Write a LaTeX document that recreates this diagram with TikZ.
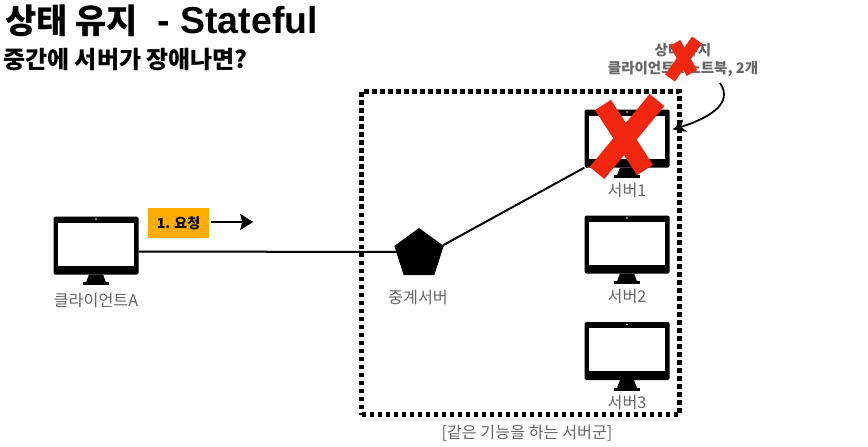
\documentclass[tikz,border=0pt]{standalone}
\usepackage{fontspec}
\usetikzlibrary{shapes.geometric, arrows.meta, positioning, calc}
\setmainfont{Liberation Sans}
\newfontfamily\krfont{Noto Sans CJK KR}
\definecolor{reqbg}{HTML}{FFAB00}
\definecolor{crossred}{HTML}{F0260F}
\definecolor{labeltxt}{HTML}{666666}

\begin{document}
\begin{tikzpicture}[
    x=1pt, y=-1pt,
    >=Stealth,
    monbody/.style={
        rectangle, fill=black, rounded corners=1.5pt, inner sep=0pt,
        minimum width=85pt, minimum height=58pt
    },
    monitor/.pic={
        \node[monbody] (-body) at (0,0) {};
        \fill[white] (-38,-23) rectangle (38,20);
        \fill[white] (0,-26.5) circle (0.9);
        \fill[black] (-7,29) -- (7,29) -- (10,37) -- (-10,37) -- cycle;
        \fill[black] (-13,36.5) rectangle (13,39.5);
    },
    elabel/.style={font=\krfont\fontsize{16.2}{18}\selectfont, text=labeltxt, inner sep=0pt},
    mainline/.style={line width=2pt, color=black},
    crossbar/.style={line width=#1, color=crossred},
]
\useasboundingbox (0,0) rectangle (868,447);

%% ============ TITLE ============
\node[anchor=west, inner sep=0pt, font=\bfseries\fontsize{37.5}{40}\selectfont] (title) at (5,21)
    {{\krfont\bfseries\fontsize{34}{40}\selectfont 상태 유지}\hspace{9pt} - Stateful};
\node[anchor=west, inner sep=0pt, font=\krfont\bfseries\fontsize{24}{26}\selectfont] (subtitle) at (3,60)
    {중간에 서버가 장애나면?};

%% ============ SERVER GROUP ============
\node[draw=black, line width=4.2pt, dash pattern=on 4.2pt off 3.8pt, minimum width=318pt,
      minimum height=323pt, inner sep=0pt] (group) at (520.5,253) {};
\node[elabel] (grouplabel) at (527,433) {[같은 기능을 하는 서버군]};

%% ============ MONITORS ============
\pic (client) at (96,245.5) {monitor};
\pic (server1) at (627,138.5) {monitor};
\pic (server2) at (627,244.5) {monitor};
\pic (server3) at (627,351) {monitor};

\node[elabel] (clientlabel) at (96,300) {클라이언트A};
\node[elabel] (server1label) at (627,190) {서버1};
\node[elabel] (server2label) at (627,296) {서버2};
\node[elabel] (server3label) at (627,402) {서버3};

%% ============ PROXY ============
\node[regular polygon, regular polygon sides=5, fill=black, inner sep=0pt, minimum size=52pt] (proxy) at (419,254) {};
\node[elabel] (proxylabel) at (418,297) {중계서버};

%% ============ REQUEST ============
\node[fill=reqbg, minimum width=61pt, minimum height=30pt, inner sep=0pt,
      font=\krfont\bfseries\fontsize{14}{16}\selectfont] (req) at (178.5,223) {1. 요청};
\coordinate[right=44pt of req.east] (reqend);
\draw[line width=2pt, -{Stealth[length=13pt,width=16pt,inset=2pt]}] (req.east) ++(2,-1) -- (reqend |- 0,222);

%% ============ EDGES ============
\draw[mainline] (client-body.east |- 0,251.5) -- (proxy.west |- 0,252);
\draw[mainline] (proxy.20) -- (server1-body.south west);

%% ============ STATE NOTE ============
\node[align=center, inner sep=0pt, text=labeltxt,
      font=\krfont\bfseries\fontsize{14.5}{18}\selectfont] (statelabel) at (683,60)
    {상태 유지\\클라이언트A 노트북, 2개};
\coordinate (notetail) at (720,83);
\draw[line width=1.8pt, -{Stealth[length=13pt,width=13pt]}]
    (notetail) .. controls +(15,22) and +(32,-10) ..
    ($(server1-body.east)+(3,-9)$);

%% ============ CROSSES ============
\draw[crossbar=19pt] (603,105) -- (645,170);
\draw[crossbar=19pt] (657,100) -- (597,173);
\draw[crossbar=12pt] (675,43) -- (692,73);
\draw[crossbar=12pt] (697,40) -- (670,78);

\end{tikzpicture}
\end{document}
